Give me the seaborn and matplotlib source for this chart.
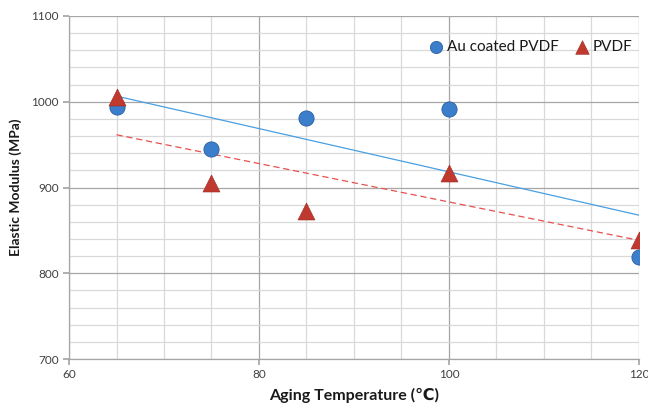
import numpy as np
import pandas as pd
import matplotlib
matplotlib.use("Agg")
import matplotlib.pyplot as plt
import seaborn as sns
from matplotlib.ticker import MultipleLocator

# Data
temps = [65, 75, 85, 100, 120]
au_coated = [994, 945, 981, 991, 819]
pvdf = [1005, 905, 873, 917, 839]
x_ticks = [60, 80, 100, 120]
y_ticks = [700, 800, 900, 1000, 1100]

sns.set_theme(style="white")
plt.rcParams['font.family'] = ['Lato', 'DejaVu Sans']

fig = plt.figure(figsize=(6.48, 4.08), dpi=100)
ax = fig.add_axes([0.1065, 0.120, 0.8795, 0.8408])

df = pd.DataFrame({"T": temps, "au": au_coated, "pvdf": pvdf})

blue = "#3b7fcc"
red = "#c0392f"

# grid
ax.xaxis.set_major_locator(MultipleLocator(20))
ax.xaxis.set_minor_locator(MultipleLocator(5))
ax.yaxis.set_major_locator(MultipleLocator(100))
ax.yaxis.set_minor_locator(MultipleLocator(20))
ax.grid(which="major", color="#a6a6a6", lw=0.9)
ax.grid(which="minor", color="#d9d9d9", lw=0.9)
ax.set_axisbelow(True)

# trend lines
sns.regplot(data=df, x="T", y="au", ax=ax, scatter=False, ci=None, truncate=True,
            line_kws=dict(color="#4a9fe0", lw=0.9))
sns.regplot(data=df, x="T", y="pvdf", ax=ax, scatter=False, ci=None, truncate=True,
            line_kws=dict(color="#e8504f", lw=0.9, ls=(0, (5, 3))))

# points
sns.scatterplot(data=df, x="T", y="au", ax=ax, marker="o", s=120, color=blue,
                edgecolor="#2a5e9c", linewidth=0.6, label="Au coated PVDF", zorder=5)
sns.scatterplot(data=df, x="T", y="pvdf", ax=ax, marker="^", s=150, color=red,
                edgecolor="#9a2a22", linewidth=0.4, label="PVDF", zorder=6)

ax.set_xlim(60, 120)
ax.set_ylim(700, 1100)
ax.set_xticks(x_ticks)
ax.set_yticks(y_ticks)
ax.tick_params(axis="both", which="major", labelsize=8.5, labelcolor="#404040",
               length=4, color="#a6a6a6", direction="out", left=True, bottom=True)
ax.tick_params(axis="both", which="minor", length=0)

for s in ["top", "right"]:
    ax.spines[s].set_visible(False)
for s in ["left", "bottom"]:
    ax.spines[s].set_color("#a6a6a6")
    ax.spines[s].set_linewidth(0.9)

ax.set_xlabel("Aging Temperature (\u2103)", fontsize=11.5, fontweight="bold",
              color="#1a1a1a", labelpad=5)
ax.set_ylabel("Elastic Modulus (MPa)", fontsize=10, fontweight="bold",
              color="#1a1a1a")
ax.yaxis.set_label_coords(-0.082, 0.5)

leg = ax.legend(loc="upper right", bbox_to_anchor=(1.004, 0.958), ncol=2, frameon=False,
                fontsize=11, handletextpad=0.2, handlelength=1.0, columnspacing=1.0,
                markerscale=0.8, borderaxespad=0.2)
for t in leg.get_texts():
    t.set_color("#1a1a1a")

fig.savefig("out.png", dpi=100)
